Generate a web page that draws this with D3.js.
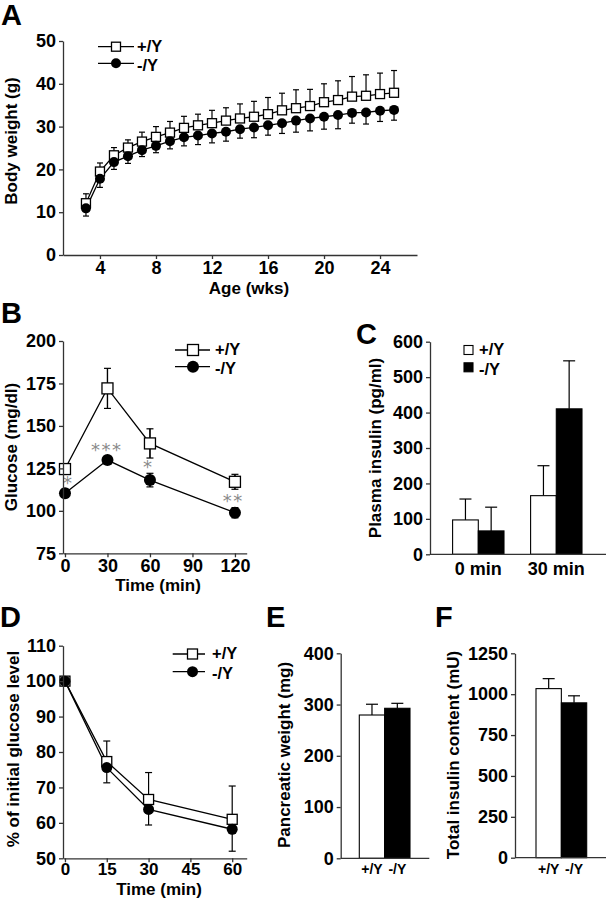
<!DOCTYPE html>
<html><head><meta charset="utf-8">
<script src="https://cdn.jsdelivr.net/npm/d3@7"></script>
<style>
body{margin:0;background:#fff}
svg{display:block}
text{font-family:"Liberation Sans",Arial,Helvetica,sans-serif;font-weight:bold;fill:#000}
</style></head><body>
<svg id="c" width="606" height="899"></svg>
<script>
// ---------- DATA ----------
const groups = ["+/Y", "-/Y"];

// Panel A: body weight
const ageWeeks = [3,4,5,6,7,8,9,10,11,12,13,14,15,16,17,18,19,20,21,22,23,24,25];
const weightWT = [12.1,19.5,23.3,25.1,26.5,27.6,28.6,29.7,30.3,30.8,31.4,31.9,32.3,32.9,33.8,34.3,34.8,35.7,36.2,37.0,37.2,37.6,37.9];
const weightWTsd = [2.2,2.0,1.8,1.8,2.2,2.4,2.6,2.7,2.6,3.0,3.0,3.4,3.6,3.9,4.0,4.3,3.9,4.3,4.5,4.7,4.9,4.9,5.2];
const weightKO = [10.9,17.8,21.7,23.1,24.5,25.5,26.6,27.5,27.9,28.4,28.8,29.4,29.8,30.3,30.8,31.4,31.9,32.3,32.7,33.2,33.3,33.7,33.9];
const weightKOsd = [1.8,2.0,1.7,1.7,1.5,1.6,1.8,2.0,2.1,2.2,2.2,2.1,2.4,2.3,2.4,2.7,2.9,2.9,3.2,2.4,2.7,2.5,2.4];
const ageTicks = [4,8,12,16,20,24];
const weightTicks = [0,10,20,30,40,50];

// Panel B: glucose tolerance
const gttTime = [0,30,60,120];
const gttWT = [124.6,172.1,139.7,117.1];
const gttWTsd = [3.0,11.8,8.6,4.4];
const gttKO = [110.3,129.9,118.1,98.9];
const gttKOsd = [2.5,1.5,4.0,3.0];
const gttStars = ["*","***","*","**"];
const gttTimeTicks = [0,30,60,90,120];
const gttGlucoseTicks = [75,100,125,150,175,200];

// Panel C: plasma insulin
const insulinCats = ["0 min","30 min"];
const insulinWT = [97,165.5];
const insulinWTsd = [59,84.5];
const insulinKO = [66,410.5];
const insulinKOsd = [67,135.5];
const insulinTicks = [0,100,200,300,400,500,600];

// Panel D: insulin tolerance
const ittTime = [0,15,30,60];
const ittWT = [100,77.3,66.6,61.0];
const ittWTsd = [0,5.8,7.6,9.4];
const ittKO = [100,75.6,63.8,58.2];
const ittKOsd = [0,4.3,4.4,6.2];
const ittTimeTicks = [0,15,30,45,60];
const ittTicks = [50,60,70,80,90,100,110];

// Panel E: pancreatic weight
const pancWeight = [279.6,292.7];
const pancWeightSd = [21,9.7];
const pancTicks = [0,100,200,300,400];

// Panel F: total insulin content
const totalInsulin = [1034,947];
const totalInsulinSd = [61,43];
const totalInsulinTicks = [0,250,500,750,1000,1250];

// ---------- DRAWING ----------
const svg = d3.select("#c");
const AX = "#333";
const TICKFS = 18;
const LEGFS = 16.5;
const fmt = d3.format("d");

function styleAxis(a, fs){
  a.attr("font-size", fs || TICKFS).attr("font-family", null);
  a.select(".domain").attr("stroke", AX).attr("stroke-width", 1.3);
  a.selectAll(".tick line").attr("stroke", AX).attr("stroke-width", 1.3);
  a.selectAll(".tick text").attr("fill", "#000");
}
function yAxis(scale, x, ticks){
  const a = svg.append("g").attr("transform", `translate(${x},0)`)
    .call(d3.axisLeft(scale).tickValues(ticks).tickFormat(fmt).tickSize(4).tickSizeOuter(0).tickPadding(3));
  styleAxis(a); return a;
}
function xAxis(scale, y, ticks, pad, fs){
  const a = svg.append("g").attr("transform", `translate(0,${y})`)
    .call(d3.axisBottom(scale).tickValues(ticks).tickFormat(fmt).tickSize(4).tickSizeOuter(0).tickPadding(pad));
  styleAxis(a, fs); return a;
}
function plainX(x0, x1, y){
  svg.append("line").attr("x1", x0).attr("x2", x1).attr("y1", y).attr("y2", y)
    .attr("stroke", AX).attr("stroke-width", 1.3);
}
function yLabel(txt, x, yc, fs){
  svg.append("text").attr("transform", `translate(${x},${yc}) rotate(-90)`)
    .attr("text-anchor", "middle").attr("font-size", fs || 17).text(txt);
}
function xLabel(txt, xc, y){
  svg.append("text").attr("x", xc).attr("y", y).attr("text-anchor", "middle").attr("font-size", 17).text(txt);
}
function panelLetter(t, x, y){
  svg.append("text").attr("x", x).attr("y", y).attr("font-size", 29).text(t);
}
function errBar(x, y0, y1, cap){
  const g = svg.append("g").attr("stroke", "#000").attr("stroke-width", 1.2);
  g.append("line").attr("x1", x).attr("x2", x).attr("y1", y0).attr("y2", y1);
  g.append("line").attr("x1", x - cap/2).attr("x2", x + cap/2).attr("y1", y1).attr("y2", y1);
}
function marker(type, x, y, s){
  if (type === "sq") {
    svg.append("rect").attr("x", x - s/2).attr("y", y - s/2).attr("width", s).attr("height", s)
      .attr("fill", "#fff").attr("stroke", "#000").attr("stroke-width", 1.3);
  } else {
    svg.append("circle").attr("cx", x).attr("cy", y).attr("r", s/2 + 0.5).attr("fill", "#000");
  }
}
function lineSeries(xs, ys, sx, sy){
  const ln = d3.line().x((d,i) => sx(xs[i])).y(d => sy(d));
  svg.append("path").datum(ys).attr("d", ln).attr("fill", "none").attr("stroke", "#000").attr("stroke-width", 1.3);
}
function legendLines(x0, x1, xm, xt, y0, y1, s){
  [[y0,"sq",groups[0],5],[y1,"ci",groups[1],7.2]].forEach(([y,t,lab,dy]) => {
    svg.append("line").attr("x1", x0).attr("x2", x1).attr("y1", y).attr("y2", y).attr("stroke", "#000").attr("stroke-width", 1.3);
    marker(t, xm, y, s);
    svg.append("text").attr("x", xt).attr("y", y + dy).attr("font-size", LEGFS).text(lab);
  });
}

// ---- Panel A ----
{
  const x = d3.scaleLinear().domain([1.36, 26.64]).range([63, 417]);
  const y = d3.scaleLinear().domain([0, 50]).range([255, 41]);
  ageWeeks.forEach((w,i) => {
    errBar(x(w), y(weightWT[i]), y(weightWT[i] + weightWTsd[i]), 6);
    errBar(x(w), y(weightKO[i]), y(weightKO[i] - weightKOsd[i]), 6);
  });
  lineSeries(ageWeeks, weightWT, x, y);
  lineSeries(ageWeeks, weightKO, x, y);
  ageWeeks.forEach((w,i) => { marker("sq", x(w), y(weightWT[i]), 9); });
  ageWeeks.forEach((w,i) => { marker("ci", x(w), y(weightKO[i]), 9); });
  yAxis(y, 63, weightTicks);
  xAxis(x, 255, ageTicks, 2);
  yLabel("Body weight (g)", 17, 141);
  xLabel("Age (wks)", 249, 293.5);
  panelLetter("A", 1, 25);
  legendLines(98, 134, 116, 137, 46.7, 63.3, 9);
}

// ---- Panel B ----
{
  const x = d3.scaleLinear().domain([-1.4, 128.3]).range([63, 246.7]);
  const y = d3.scaleLinear().domain([75, 200]).range([553.3, 341]);
  gttTime.forEach((t,i) => {
    errBar(x(t), y(gttWT[i] - gttWTsd[i]), y(gttWT[i] + gttWTsd[i]), 7);
    errBar(x(t), y(gttWT[i] + gttWTsd[i]), y(gttWT[i] - gttWTsd[i]), 7);
    errBar(x(t), y(gttKO[i] - gttKOsd[i]), y(gttKO[i] + gttKOsd[i]), 7);
    errBar(x(t), y(gttKO[i] + gttKOsd[i]), y(gttKO[i] - gttKOsd[i]), 7);
  });
  lineSeries(gttTime, gttWT, x, y);
  lineSeries(gttTime, gttKO, x, y);
  gttTime.forEach((t,i) => { marker("sq", x(t), y(gttWT[i]), 11); });
  gttTime.forEach((t,i) => { marker("ci", x(t), y(gttKO[i]), 11); });
  // significance stars
  const starY = [481.7, 449.3, 466, 500];
  const starX = [68.3, 106.7, 148.3, 233.3];
  gttStars.forEach((s,i) => {
    svg.append("text").attr("x", starX[i]).attr("y", starY[i] + 7).attr("text-anchor", "middle")
      .attr("font-size", 18).attr("letter-spacing", 1.5)
      .style("fill", "#8a8a8a").style("font-weight", "normal").style("font-family", "'DejaVu Sans',sans-serif").text(s);
  });
  yAxis(y, 63, gttGlucoseTicks);
  xAxis(x, 553.3, gttTimeTicks, 2);
  yLabel("Glucose (mg/dl)", 17, 447);
  xLabel("Time (min)", 158, 591);
  panelLetter("B", 1, 323);
  legendLines(175, 210, 193, 215, 350, 366.7, 11);
}

// ---- Panel C ----
{
  const y = d3.scaleLinear().domain([0, 600]).range([554.3, 341.7]);
  const xg = d3.scaleBand().domain(insulinCats).range([439.3, 595.3]);
  const xs = d3.scaleBand().domain(groups).range([13.3, 64.7]);
  const vals = [insulinWT, insulinKO], sds = [insulinWTsd, insulinKOsd];
  insulinCats.forEach((c,i) => {
    groups.forEach((g,j) => {
      const x0 = xg(c) + xs(g), w = xs.bandwidth();
      errBar(x0 + w/2, y(vals[j][i]), y(vals[j][i] + sds[j][i]), 12);
      svg.append("rect").attr("x", x0).attr("y", y(vals[j][i])).attr("width", w).attr("height", y(0) - y(vals[j][i]))
        .attr("fill", j ? "#000" : "#fff").attr("stroke", "#000").attr("stroke-width", 1.1);
    });
    svg.append("text").attr("x", xg(c) + xg.bandwidth()/2).attr("y", 575).attr("text-anchor", "middle")
      .attr("font-size", 18).text(c);
  });
  yAxis(y, 430, insulinTicks);
  plainX(430, 606, 554.3);
  yLabel("Plasma insulin (pg/ml)", 381, 448);
  panelLetter("C", 356, 344);
  [[350, "#fff", groups[0], 5], [367.3, "#000", groups[1], 7.2]].forEach(([yy, f, lab, dy]) => {
    svg.append("rect").attr("x", 464).attr("y", yy - 4.5).attr("width", 9).attr("height", 9)
      .attr("fill", f).attr("stroke", "#000").attr("stroke-width", 1.1);
    svg.append("text").attr("x", 479).attr("y", yy + dy).attr("font-size", LEGFS).text(lab);
  });
}

// ---- Panel D ----
{
  const x = d3.scaleLinear().domain([-0.7, 65.2]).range([63, 246.7]);
  const y = d3.scaleLinear().domain([50, 110]).range([858.3, 645.7]);
  ittTime.forEach((t,i) => {
    if (ittWTsd[i] > 0) errBar(x(t), y(ittWT[i]), y(ittWT[i] + ittWTsd[i]), 7);
    if (ittKOsd[i] > 0) errBar(x(t), y(ittKO[i]), y(ittKO[i] - ittKOsd[i]), 7);
  });
  lineSeries(ittTime, ittWT, x, y);
  lineSeries(ittTime, ittKO, x, y);
  ittTime.forEach((t,i) => { marker("sq", x(t), y(ittWT[i]), 10); });
  ittTime.forEach((t,i) => { marker("ci", x(t), y(ittKO[i]), 10); });
  yAxis(y, 63, ittTicks);
  xAxis(x, 858.3, ittTimeTicks, 1, 17);
  yLabel("% of initial glucose level", 19, 749);
  xLabel("Time (min)", 159, 895);
  panelLetter("D", 0, 627);
  legendLines(172.7, 205, 192.5, 212, 654, 671.7, 10);
}

// ---- Panels E & F ----
function smallBar(vals, sds, ticks, yMax, axisX, axisEnd, y0, yTop, barL, barR, label, labX, letter, letX){
  const y = d3.scaleLinear().domain([0, yMax]).range([y0, yTop]);
  const x = d3.scaleBand().domain(groups).range([barL, barR]);
  groups.forEach((g,j) => {
    const cx = x(g) + x.bandwidth()/2;
    errBar(cx, y(vals[j]), y(vals[j] + sds[j]), 12);
    svg.append("rect").attr("x", x(g)).attr("y", y(vals[j])).attr("width", x.bandwidth()).attr("height", y(0) - y(vals[j]))
      .attr("fill", j ? "#000" : "#fff").attr("stroke", "#000").attr("stroke-width", 1.1);
    svg.append("text").attr("x", cx).attr("y", y0 + 16).attr("text-anchor", "middle").attr("font-size", 14).text(g);
  });
  yAxis(y, axisX, ticks);
  plainX(axisX, axisEnd, y0);
  yLabel(label, labX, 755);
  panelLetter(letter, letX, 627);
}
smallBar(pancWeight, pancWeightSd, pancTicks, 400, 340.7, 429.3, 858.3, 653.3, 359.3, 410, "Pancreatic weight (mg)", 290, "E", 266);
smallBar(totalInsulin, totalInsulinSd, totalInsulinTicks, 1250, 515, 606, 857.7, 653.3, 536, 586.7, "Total insulin content (mU)", 459, "F", 435);
</script>
</body></html>
